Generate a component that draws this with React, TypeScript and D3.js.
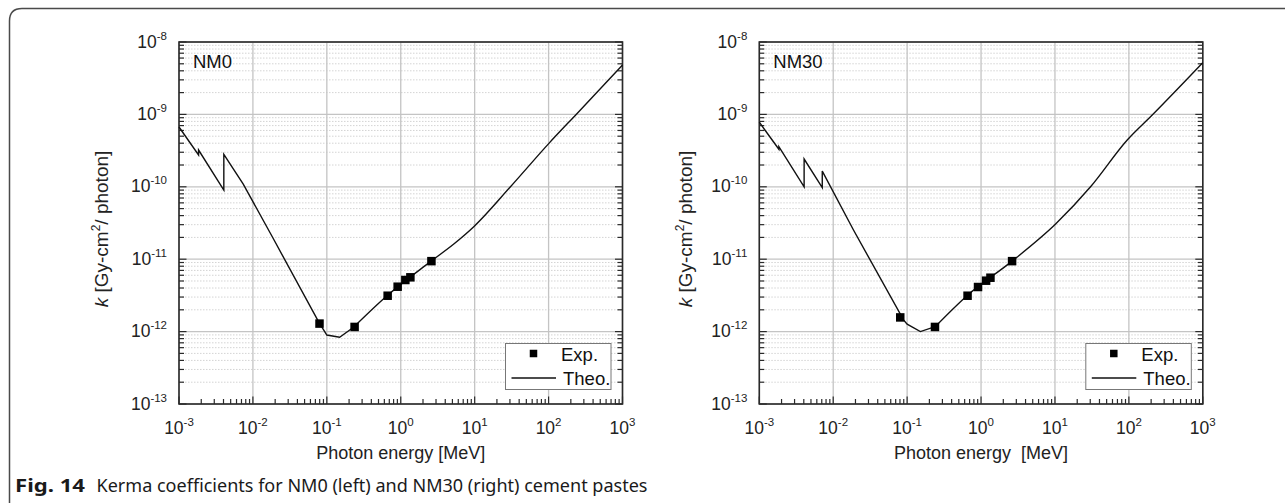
import React from 'react';
import * as d3 from 'd3';

type Pt = [number, number];

// tick decades (exponents)
const xTickExps = [-3, -2, -1, 0, 1, 2, 3];
const yTickExps = [-8, -9, -10, -11, -12, -13];

// NM0 theoretical kerma curve [MeV, Gy-cm2/photon]
const nm0Theo: Pt[] = [
  [1e-3, 6.7e-10],
  [1.84e-3, 2.75e-10],
  [1.8401e-3, 3.22e-10],
  [4.04e-3, 9.03e-11],
  [4.0401e-3, 2.81e-10],
  [7.4e-3, 1.09e-10],
  [0.019, 1.9e-11],
  [0.0772, 1.37e-12],
  [0.1, 8.97e-13],
  [0.149, 8.34e-13],
  [0.23, 1.15e-12],
  [0.652, 3.13e-12],
  [2.52, 9.25e-12],
  [5.22, 1.62e-11],
  [9.73, 2.81e-11],
  [30.5, 1.0e-10],
  [101, 3.98e-10],
  [245, 1.04e-9],
  [1000, 4.8e-9],
];

// NM0 experimental points
const nm0Exp: Pt[] = [
  [0.0796, 1.29e-12],
  [0.2375, 1.16e-12],
  [0.665, 3.13e-12],
  [0.908, 4.17e-12],
  [1.154, 5.16e-12],
  [1.35, 5.62e-12],
  [2.6, 9.4e-12],
];

// NM30 theoretical kerma curve
const nm30Theo: Pt[] = [
  [1e-3, 7.8e-10],
  [1.84e-3, 3.3e-10],
  [1.8401e-3, 3.58e-10],
  [4.04e-3, 1.0e-10],
  [4.0401e-3, 2.42e-10],
  [7.11e-3, 9.72e-11],
  [7.1101e-3, 1.65e-10],
  [0.0188, 2.53e-11],
  [0.0894, 1.45e-12],
  [0.1, 1.27e-12],
  [0.151, 1.0e-12],
  [0.24, 1.17e-12],
  [0.646, 3.13e-12],
  [2.63, 9.4e-12],
  [10.2, 3.06e-11],
  [30.3, 1.0e-10],
  [95, 4.43e-10],
  [207, 9.8e-10],
  [1000, 5.18e-9],
];

// NM30 experimental points
const nm30Exp: Pt[] = [
  [0.0807, 1.57e-12],
  [0.238, 1.16e-12],
  [0.657, 3.13e-12],
  [0.91, 4.13e-12],
  [1.17, 5.05e-12],
  [1.34, 5.55e-12],
  [2.63, 9.4e-12],
];

const legendLabels = ['Exp.', 'Theo.'];
const captionBold = 'Fig. 14';
const captionText = 'Kerma coefficients for NM0 (left) and NM30 (right) cement pastes';

const FONT = '"Liberation Sans", Arial, sans-serif';
const PLOT_W = 443.5;
const TOP = 42;
const BOTTOM = 404;
const SMOOTH_FROM = 0.2; // MeV: above this the curve is drawn smooth

function Panel(props: {
  left: number;
  theo: Pt[];
  exp: Pt[];
  label: string;
  xTitle: string;
  yTitleX: number;
}) {
  const { left, theo, exp, label, xTitle, yTitleX } = props;
  const right = left + PLOT_W;
  const x = d3.scaleLog().domain([1e-3, 1e3]).range([left, right]);
  const y = d3.scaleLog().domain([1e-13, 1e-8]).range([BOTTOM, TOP]);
  const lineLin = d3
    .line<Pt>()
    .x((d) => x(d[0]))
    .y((d) => y(d[1]));
  const lineSmooth = d3
    .line<Pt>()
    .x((d) => x(d[0]))
    .y((d) => y(d[1]))
    .curve(d3.curveMonotoneX);
  const splitIdx = theo.findIndex((d) => d[0] > SMOOTH_FROM);
  const lowPart = theo.slice(0, splitIdx + 1);
  const highPart = theo.slice(splitIdx);

  const yMinor: number[] = [];
  for (let e = -13; e < -8; e++) for (let m = 2; m <= 9; m++) yMinor.push(m * Math.pow(10, e));
  const xMinor: number[] = [];
  for (let e = -3; e < 3; e++) for (let m = 2; m <= 9; m++) xMinor.push(m * Math.pow(10, e));

  const axisColor = '#2a2a2a';
  const mk = 8.5;

  return (
    <g>
      {/* minor horizontal dotted grid */}
      {yMinor.map((v, i) => (
        <line key={'ym' + i} x1={left} x2={right} y1={y(v)} y2={y(v)} stroke="#d4d4d4" strokeWidth={1} strokeDasharray="1.5,1.5" />
      ))}
      {/* major grid */}
      {yTickExps.map((e) => (
        <line key={'yg' + e} x1={left} x2={right} y1={y(Math.pow(10, e))} y2={y(Math.pow(10, e))} stroke="#c4c4c4" strokeWidth={1.3} />
      ))}
      {xTickExps.map((e) => (
        <line key={'xg' + e} x1={x(Math.pow(10, e))} x2={x(Math.pow(10, e))} y1={TOP} y2={BOTTOM} stroke="#c4c4c4" strokeWidth={1.3} />
      ))}

      {/* ticks */}
      {xMinor.map((v, i) => (
        <line key={'xt' + i} x1={x(v)} x2={x(v)} y1={BOTTOM} y2={BOTTOM - 5} stroke={axisColor} strokeWidth={1.2} />
      ))}
      {xTickExps.map((e) => (
        <line key={'xT' + e} x1={x(Math.pow(10, e))} x2={x(Math.pow(10, e))} y1={BOTTOM} y2={BOTTOM - 7.5} stroke={axisColor} strokeWidth={1.2} />
      ))}
      {yMinor.map((v, i) => (
        <g key={'yt' + i}>
          <line x1={left} x2={left + 5} y1={y(v)} y2={y(v)} stroke={axisColor} strokeWidth={1.2} />
          <line x1={right} x2={right - 5} y1={y(v)} y2={y(v)} stroke={axisColor} strokeWidth={1.2} />
        </g>
      ))}
      {yTickExps.map((e) => (
        <g key={'yT' + e}>
          <line x1={left} x2={left + 7.5} y1={y(Math.pow(10, e))} y2={y(Math.pow(10, e))} stroke={axisColor} strokeWidth={1.2} />
          <line x1={right} x2={right - 7.5} y1={y(Math.pow(10, e))} y2={y(Math.pow(10, e))} stroke={axisColor} strokeWidth={1.2} />
        </g>
      ))}

      {/* frame */}
      <rect x={left} y={TOP} width={PLOT_W} height={BOTTOM - TOP} fill="none" stroke={axisColor} strokeWidth={1.6} />

      {/* curve */}
      <path d={lineLin(lowPart) || ''} fill="none" stroke="#111" strokeWidth={1.4} strokeLinejoin="miter" />
      <path d={lineSmooth(highPart) || ''} fill="none" stroke="#111" strokeWidth={1.4} />
      {exp.map((d, i) => (
        <rect key={'e' + i} x={x(d[0]) - mk / 2} y={y(d[1]) - mk / 2} width={mk} height={mk} fill="#000" />
      ))}

      {/* tick labels */}
      {xTickExps.map((e) => (
        <text key={'xl' + e} x={x(Math.pow(10, e))} y={433.5} textAnchor="middle" fontFamily={FONT} fontSize={17.5} fill="#222">
          10
          <tspan dy={-8} fontSize={11.5}>{String(e)}</tspan>
        </text>
      ))}
      {yTickExps.map((e) => (
        <text key={'yl' + e} x={left - 12} y={y(Math.pow(10, e)) + 5.5} textAnchor="end" fontFamily={FONT} fontSize={17.5} fill="#222">
          10
          <tspan dy={-8} fontSize={11.5}>{String(e)}</tspan>
        </text>
      ))}

      {/* panel label */}
      <text x={left + 14} y={68} fontFamily={FONT} fontSize={18.5} fill="#111">{label}</text>

      {/* axis titles */}
      <text x={left + PLOT_W / 2} y={459} textAnchor="middle" fontFamily={FONT} fontSize={18} fill="#222" style={{ whiteSpace: 'pre' }}>
        {xTitle}
      </text>
      <text transform={`translate(${yTitleX},229) rotate(-90)`} textAnchor="middle" fontFamily={FONT} fontSize={19} fill="#222">
        <tspan fontStyle="italic">k</tspan>
        <tspan> [Gy-cm</tspan>
        <tspan dy={-8} fontSize={12}>2</tspan>
        <tspan dy={8}>/ photon]</tspan>
      </text>

      {/* legend */}
      <rect x={right - 117} y={343.5} width={105.5} height={46} fill="#fff" stroke="#777" strokeWidth={1} />
      <rect x={right - 89 - 3.75} y={353.5 - 3.75} width={7.5} height={7.5} fill="#000" />
      <text x={right - 61.5} y={360.5} fontFamily={FONT} fontSize={18.5} fill="#111">{legendLabels[0]}</text>
      <line x1={right - 111} x2={right - 66.5} y1={378} y2={378} stroke="#111" strokeWidth={1.4} />
      <text x={right - 59.5} y={385} fontFamily={FONT} fontSize={18.5} fill="#111">{legendLabels[1]}</text>
    </g>
  );
}

export default function App() {
  return (
    <svg
      width={1285}
      height={503}
      viewBox="0 0 1285 503"
      style={{ position: 'absolute', left: 0, top: 0, background: '#fff' }}
    >
      <rect x={0} y={0} width={1285} height={503} fill="#fff" />
      <path d="M 9.5 503 L 9.5 21 Q 9.5 8.5 22 8.5 L 1290 8.5" fill="none" stroke="#4a4a4a" strokeWidth={1.5} />
      <Panel left={179} theo={nm0Theo} exp={nm0Exp} label="NM0" xTitle="Photon energy [MeV]" yTitleX={108} />
      <Panel left={759.3} theo={nm30Theo} exp={nm30Exp} label="NM30" xTitle="Photon energy  [MeV]" yTitleX={692} />
      <text x={15} y={492} fontFamily='"Noto Sans", "Open Sans", sans-serif' fontSize={18} fontWeight="bold" fill="#1a1a1a" textLength={70} lengthAdjust="spacingAndGlyphs">
        {captionBold}
      </text>
      <text x={96.5} y={492} fontFamily='"Noto Sans", "Open Sans", sans-serif' fontSize={18} fill="#1a1a1a" textLength={551} lengthAdjust="spacingAndGlyphs">
        {captionText}
      </text>
    </svg>
  );
}
